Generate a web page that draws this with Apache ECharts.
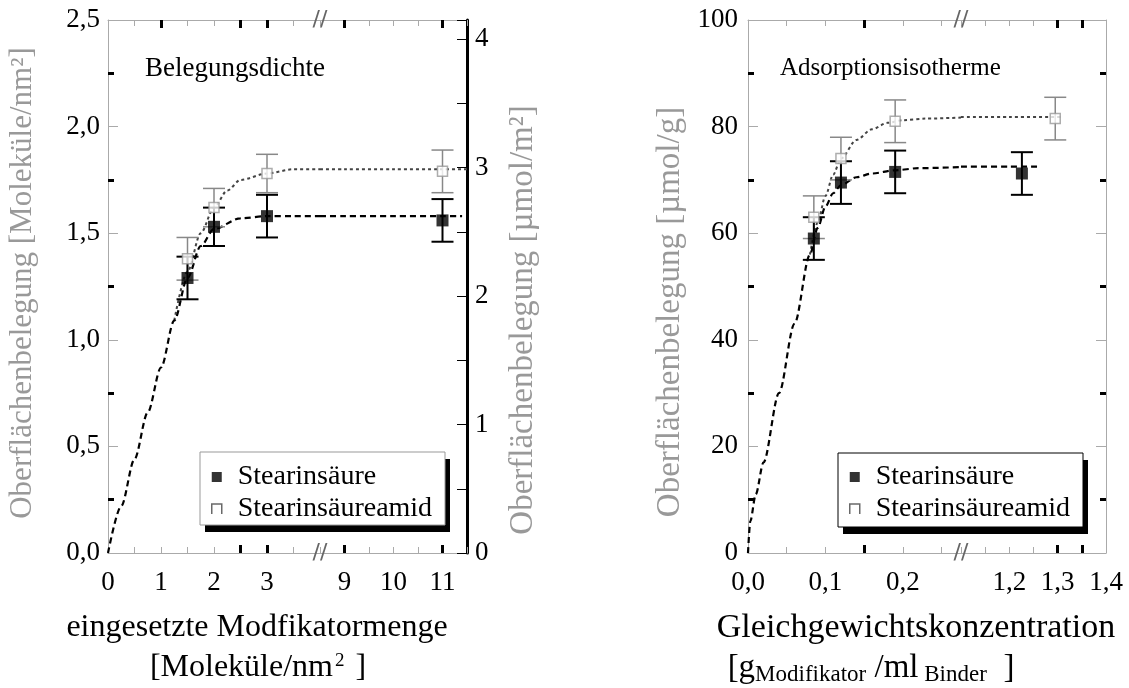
<!DOCTYPE html>
<html><head><meta charset="utf-8">
<script src="https://cdn.jsdelivr.net/npm/echarts@6/dist/echarts.min.js"></script>
<style>html,body{margin:0;padding:0;background:#fff}#c{width:1129px;height:688px}</style>
</head><body><div id="c"></div>
<script>
// ===== Left chart: Belegungsdichte =====
const leftXTickLabels = [0, 1, 2, 3, 9, 10, 11];
const leftRightTickLabels = [0, 1, 2, 3, 4];
const leftX = [1.5, 2, 3, 11];
const leftStearin = [1.29, 1.53, 1.58, 1.56];
const leftStearinErr = [0.10, 0.09, 0.10, 0.10];
const leftAmid = [1.38, 1.62, 1.78, 1.79];
const leftAmidErr = [0.10, 0.09, 0.09, 0.10];
const leftStearinCurveX = [0, 0.25, 0.5, 0.75, 1, 1.25, 1.5, 1.75, 2, 2.5, 3, 3.5, 4, 8.5, 9, 10, 11, 11.4];
const leftStearinCurveY = [0, 0.22, 0.44, 0.66, 0.87, 1.09, 1.29, 1.44, 1.52, 1.57, 1.58, 1.58, 1.58, 1.58, 1.58, 1.58, 1.58, 1.58];
const leftAmidCurveX = [1.25, 1.5, 1.75, 2, 2.25, 2.5, 3, 3.5, 4, 8.5, 9, 10, 11, 11.5];
const leftAmidCurveY = [1.09, 1.32, 1.50, 1.62, 1.70, 1.75, 1.78, 1.80, 1.80, 1.80, 1.80, 1.80, 1.80, 1.80];
const leftBottomThick = [2.5, 3, 9, 11];
const leftTopThick = [1, 2.5, 3, 9, 11];

// ===== Right chart: Adsorptionsisotherme =====
const rightXTickLabels = [0, 0.1, 0.2, 1.2, 1.3, 1.4];
const rightStearinX = [0.085, 0.12, 0.19, 1.226];
const rightStearin = [59, 69.5, 71.5, 71.2];
const rightStearinErr = [4, 4, 4, 4];
const rightAmidX = [0.085, 0.12, 0.19, 1.295];
const rightAmid = [63, 74, 81, 81.5];
const rightAmidErr = [4, 4, 4, 4];
const rightStearinCurveX = [0, 0.003, 0.01, 0.02, 0.04, 0.06, 0.08, 0.09, 0.1, 0.11, 0.12, 0.14, 0.16, 0.19, 0.22, 0.275, 1.1, 1.2, 1.265];
const rightStearinCurveY = [0, 6, 11, 17, 30, 43, 56, 61, 65, 67.5, 69, 70.5, 71.2, 71.8, 72.2, 72.4, 72.5, 72.5, 72.5];
const rightAmidCurveX = [0.08, 0.09, 0.1, 0.11, 0.12, 0.14, 0.16, 0.18, 0.2, 0.23, 0.275, 1.1, 1.2, 1.31];
const rightAmidCurveY = [56, 62, 67, 71, 74, 77.5, 79.5, 80.7, 81.2, 81.5, 81.7, 81.8, 81.8, 81.8];
const rightBottomThick = [0.15, 1.3, 1.35];
const rightTopThick = [0.15, 1.3, 1.35];

const FONT = '"Liberation Serif","Times New Roman",serif';
const TICK_FS = 27;
const grids = [
  {left: 108, top: 20, width: 212, height: 533, show: false},
  {left: 320, top: 20, width: 147, height: 533, show: false},
  {left: 748, top: 20, width: 213, height: 533, show: false},
  {left: 961, top: 20, width: 145, height: 533, show: false}
];
const xAxes = [], yAxes = [];
function addX(o){ xAxes.push(o); return xAxes.length - 1; }
function addY(o){ yAxes.push(o); return yAxes.length - 1; }

function xSet(g, min, max, interval, labelVals, thickB, thickT, fmt) {
  const base = {gridIndex: g, type: 'value', min, max, interval, splitLine: {show: false}};
  const main = addX(Object.assign({}, base, {position: 'bottom',
    axisLine: {show: true, onZero: false, lineStyle: {color: '#aaa', width: 1}},
    axisTick: {show: true, inside: true, length: 6, lineStyle: {color: '#aaa', width: 1}},
    axisLabel: {show: true, customValues: labelVals, formatter: fmt, margin: 16, fontSize: TICK_FS, fontFamily: FONT, color: '#000'}}));
  addX(Object.assign({}, base, {position: 'top',
    axisLine: {show: true, onZero: false, lineStyle: {color: '#aaa', width: 1}},
    axisTick: {show: true, inside: true, length: 6, lineStyle: {color: '#aaa', width: 1}},
    axisLabel: {show: false}}));
  addX(Object.assign({}, base, {position: 'bottom',
    axisLine: {show: false, onZero: false},
    axisTick: {show: true, inside: true, length: 8, customValues: thickB, lineStyle: {color: '#000', width: 3}},
    axisLabel: {show: false}}));
  addX(Object.assign({}, base, {position: 'top',
    axisLine: {show: false, onZero: false},
    axisTick: {show: true, inside: true, length: 8, customValues: thickT, lineStyle: {color: '#000', width: 3}},
    axisLabel: {show: false}}));
  return main;
}
const inR = (lo, hi) => v => v >= lo - 1e-9 && v <= hi + 1e-9;
const fmtInt = v => String(Math.round(v));
const fmtDec = v => v.toFixed(1).replace('.', ',');

const xL1 = xSet(0, 0, 4, 0.5, leftXTickLabels.filter(inR(0, 4)), leftBottomThick.filter(inR(0, 4)), leftTopThick.filter(inR(0, 4)), fmtInt);
const xL2 = xSet(1, 8.5, 11.5, 0.5, leftXTickLabels.filter(inR(8.5, 11.5)), leftBottomThick.filter(inR(8.5, 11.5)), leftTopThick.filter(inR(8.5, 11.5)), fmtInt);
const xR1 = xSet(2, 0, 0.275, 0.05, rightXTickLabels.filter(inR(0, 0.275)), rightBottomThick.filter(inR(0, 0.275)), rightTopThick.filter(inR(0, 0.275)), fmtDec);
const xR2 = xSet(3, 1.1, 1.4, 0.05, rightXTickLabels.filter(inR(1.1, 1.4)), rightBottomThick.filter(inR(1.1, 1.4)), rightTopThick.filter(inR(1.1, 1.4)), fmtDec);

const yL1 = addY({gridIndex: 0, type: 'value', min: 0, max: 2.5, interval: 0.5, position: 'left',
  axisLine: {show: true, lineStyle: {color: '#aaa', width: 1}},
  axisTick: {show: true, inside: true, length: 10, lineStyle: {color: '#aaa', width: 1}},
  minorTick: {show: true, splitNumber: 2, length: 6, lineStyle: {color: '#000', width: 3}},
  axisLabel: {formatter: fmtDec, margin: 8, fontSize: TICK_FS, fontFamily: FONT, color: '#000'},
  splitLine: {show: false}});
const yL2 = addY({gridIndex: 1, type: 'value', min: 0, max: 2.5, show: false});
addY({gridIndex: 1, type: 'value', min: 0, max: 4.15, interval: 0.5, position: 'right',
  axisLine: {show: true, lineStyle: {color: '#000', width: 3}},
  axisTick: {show: true, inside: true, length: 10, lineStyle: {color: '#000', width: 1}},
  axisLabel: {customValues: leftRightTickLabels, formatter: fmtInt, margin: 8, fontSize: TICK_FS, fontFamily: FONT, color: '#000'},
  splitLine: {show: false}});
const yR1 = addY({gridIndex: 2, type: 'value', min: 0, max: 100, interval: 20, position: 'left',
  axisLine: {show: true, lineStyle: {color: '#aaa', width: 1}},
  axisTick: {show: true, inside: true, length: 10, lineStyle: {color: '#aaa', width: 1}},
  minorTick: {show: true, splitNumber: 2, length: 6, lineStyle: {color: '#000', width: 3}},
  axisLabel: {formatter: fmtInt, margin: 10, fontSize: TICK_FS, fontFamily: FONT, color: '#000'},
  splitLine: {show: false}});
const yR2 = addY({gridIndex: 3, type: 'value', min: 0, max: 100, show: false});
addY({gridIndex: 3, type: 'value', min: 0, max: 100, interval: 20, position: 'right',
  axisLine: {show: true, lineStyle: {color: '#aaa', width: 1}},
  axisTick: {show: true, inside: true, length: 10, lineStyle: {color: '#aaa', width: 1}},
  minorTick: {show: true, splitNumber: 2, length: 6, lineStyle: {color: '#000', width: 3}},
  axisLabel: {show: false}, splitLine: {show: false}});

function pairs(xs, ys, lo, hi) { const r = []; xs.forEach((x, i) => { if (inR(lo, hi)(x)) r.push([x, ys[i]]); }); return r; }
function errs(xs, ys, es, lo, hi) { const r = []; xs.forEach((x, i) => { if (inR(lo, hi)(x)) r.push([x, ys[i] - es[i], ys[i] + es[i]]); }); return r; }
function errRender(color, lw, cap) {
  return function (params, api) {
    const x = api.value(0), lo = api.value(1), hi = api.value(2);
    const p1 = api.coord([x, lo]), p2 = api.coord([x, hi]);
    const st = {stroke: color, lineWidth: lw};
    return {type: 'group', children: [
      {type: 'line', shape: {x1: p1[0], y1: p1[1], x2: p2[0], y2: p2[1]}, style: st},
      {type: 'line', shape: {x1: p1[0] - cap, y1: p1[1], x2: p1[0] + cap, y2: p1[1]}, style: st},
      {type: 'line', shape: {x1: p2[0] - cap, y1: p2[1], x2: p2[0] + cap, y2: p2[1]}, style: st}
    ]};
  };
}
const series = [];
function segment(xi, yi, lo, hi, d) {
  series.push({type: 'line', xAxisIndex: xi, yAxisIndex: yi, data: pairs(d.amidCx, d.amidCy, lo, hi), showSymbol: false, smooth: 0.3, smoothMonotone: 'x',
    lineStyle: {color: '#444', width: 2, type: [3, 3]}, z: 2, silent: true});
  series.push({type: 'line', xAxisIndex: xi, yAxisIndex: yi, data: pairs(d.stCx, d.stCy, lo, hi), showSymbol: false, smooth: 0.3, smoothMonotone: 'x',
    lineStyle: {color: '#000', width: 2.2, type: [6, 4]}, z: 2, silent: true});
  series.push({type: 'custom', xAxisIndex: xi, yAxisIndex: yi, data: errs(d.amX, d.am, d.amE, lo, hi), renderItem: errRender('#888', 1.5, 11), encode: {x: 0, y: [1, 2]}, z: 3, silent: true});
  series.push({type: 'custom', xAxisIndex: xi, yAxisIndex: yi, data: errs(d.stX, d.st, d.stE, lo, hi), renderItem: errRender('#000', 2, 11), encode: {x: 0, y: [1, 2]}, z: 3, silent: true});
  series.push({type: 'scatter', name: 'Stearinsäureamid', xAxisIndex: xi, yAxisIndex: yi, data: pairs(d.amX, d.am, lo, hi), symbol: 'rect', symbolSize: 10,
    itemStyle: {color: '#fff', borderColor: '#999', borderWidth: 1.5}, z: 4});
  series.push({type: 'scatter', name: 'Stearinsäure', xAxisIndex: xi, yAxisIndex: yi, data: pairs(d.stX, d.st, lo, hi), symbol: 'rect', symbolSize: 12,
    itemStyle: {color: '#000'}, z: 5});
}
const leftD = {amidCx: leftAmidCurveX, amidCy: leftAmidCurveY, stCx: leftStearinCurveX, stCy: leftStearinCurveY,
  amX: leftX, am: leftAmid, amE: leftAmidErr, stX: leftX, st: leftStearin, stE: leftStearinErr};
const rightD = {amidCx: rightAmidCurveX, amidCy: rightAmidCurveY, stCx: rightStearinCurveX, stCy: rightStearinCurveY,
  amX: rightAmidX, am: rightAmid, amE: rightAmidErr, stX: rightStearinX, st: rightStearin, stE: rightStearinErr};
segment(xL1, yL1, 0, 4, leftD);
segment(xL2, yL2, 8.5, 11.5, leftD);
segment(xR1, yR1, 0, 0.275, rightD);
segment(xR2, yR2, 1.1, 1.4, rightD);

function legendAt(left) {
  return {left: left + 11, top: 463, orient: 'vertical', selectedMode: false, z: 10,
    padding: 0, itemWidth: 10, itemHeight: 10, itemGap: 4,
    textStyle: {fontSize: 28, fontFamily: FONT, color: '#000', lineHeight: 26, padding: [0, 0, 0, 11]},
    data: [
      {name: 'Stearinsäure', icon: 'rect', itemStyle: {color: '#000'}},
      {name: 'Stearinsäureamid', icon: 'path://M0,10L0,0L10,0L10,10', itemStyle: {color: 'rgba(0,0,0,0)', borderColor: '#444', borderWidth: 1.5}}
    ]};
}
function legendFrame(x, y, w, h, strokeColor) {
  return [
    {type: 'rect', z: 1, shape: {x: x + 5, y: y + 7, width: w, height: h}, style: {fill: '#000'}},
    {type: 'rect', z: 2, shape: {x: x, y: y, width: w, height: h}, style: {fill: '#fff', stroke: strokeColor, lineWidth: 1}}
  ];
}
const tStyle = (size, color) => ({fontSize: size, fontFamily: FONT, fill: color || '#000'});
const graphic = [].concat(
  legendFrame(200, 452, 245, 73, '#999'),
  legendFrame(838, 453, 245, 74, '#000'),
  [
  {type: 'text', left: 145, top: 55, style: Object.assign({text: 'Belegungsdichte'}, tStyle(27))},
  {type: 'text', left: 780, top: 56, style: Object.assign({text: 'Adsorptionsisotherme'}, tStyle(25))},
  {type: 'text', x: 257, y: 628, style: Object.assign({text: 'eingesetzte Modfikatormenge', align: 'center', verticalAlign: 'middle'}, tStyle(32))},
  {type: 'text', x: 258, y: 668, style: {text: '{a|[Moleküle/nm}{s|2}{a| ]}', align: 'center', verticalAlign: 'middle',
    rich: {a: {fontSize: 32, fontFamily: FONT, fill: '#000'}, s: {fontSize: 19, fontFamily: FONT, fill: '#000', padding: [0, 3, 14, 2]}}}},
  {type: 'text', x: 916, y: 628, style: Object.assign({text: 'Gleichgewichtskonzentration', align: 'center', verticalAlign: 'middle'}, tStyle(34))},
  {type: 'text', x: 871, y: 668, style: {text: '{a|[g}{s|Modifikator}{a| /ml}{s| Binder}{a|  ]}', align: 'center', verticalAlign: 'middle',
    rich: {a: {fontSize: 33, fontFamily: FONT, fill: '#000'}, s: {fontSize: 23, fontFamily: FONT, fill: '#000', padding: [14, 0, 0, 0]}}}},
  {type: 'text', x: 23, y: 283, rotation: Math.PI / 2, style: Object.assign({text: 'Oberflächenbelegung [Moleküle/nm²]', align: 'center', verticalAlign: 'middle'}, tStyle(31, '#999'))},
  {type: 'text', x: 523, y: 320, rotation: Math.PI / 2, style: Object.assign({text: 'Oberflächenbelegung [µmol/m²]', align: 'center', verticalAlign: 'middle'}, tStyle(33, '#999'))},
  {type: 'text', x: 670, y: 312, rotation: Math.PI / 2, style: Object.assign({text: 'Oberflächenbelegung [µmol/g]', align: 'center', verticalAlign: 'middle'}, tStyle(33, '#999'))}
  ]);
const chart = echarts.init(document.getElementById('c'), null, {renderer: 'canvas'});
chart.setOption({
  animation: false, backgroundColor: '#fff',
  grid: grids, xAxis: xAxes, yAxis: yAxes, series: series,
  legend: [legendAt(200), legendAt(838)],
  graphic: graphic
});
const breaks = [[xL1, 4], [xR1, 0.275]];
const marks = [];
breaks.forEach(([xi, v]) => {
  const px = chart.convertToPixel({xAxisIndex: xi}, v);
  [20, 553].forEach(py => marks.push({type: 'text', x: px, y: py, z: 5, style: {text: '//', align: 'center', verticalAlign: 'middle', fontSize: 22, fontFamily: 'DejaVu Sans', fill: '#666'}}));
});
chart.setOption({graphic: graphic.concat(marks)});
</script></body></html>
